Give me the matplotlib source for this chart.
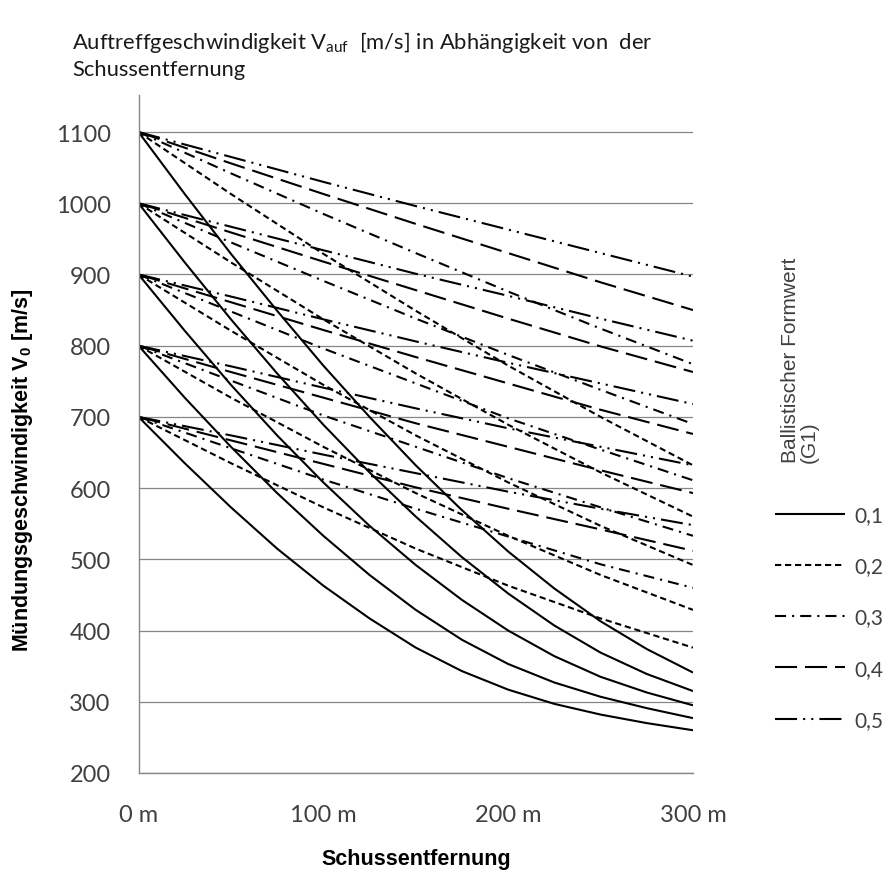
""" Auftreffgeschwindigkeit chart """

# imports
import matplotlib
matplotlib.use('Agg')
import matplotlib.pyplot as plt

plt.rcParams['mathtext.default'] = 'regular'

# distances [m]
distance_fine = [0, 25, 50, 75, 100, 125, 150, 175, 200, 225, 250, 275, 300]
distance = [0, 50, 100, 150, 200, 250, 300]
muzzle = [1100, 1000, 900, 800, 700]
formwert = ['0,1', '0,2', '0,3', '0,4', '0,5']

# velocities, one row per muzzle velocity
bc01 = [
	[1100, 1013, 929, 849, 772, 700, 632, 569, 511, 459, 413, 374, 341],
	[1000, 917, 837, 761, 689, 622, 560, 503, 452, 407, 369, 339, 315],
	[900, 821, 745, 674, 608, 547, 492, 443, 400, 364, 335, 313, 295],
	[800, 727, 658, 593, 533, 478, 429, 387, 353, 327, 307, 291, 277],
	[700, 635, 573, 515, 463, 417, 376, 343, 317, 297, 282, 270, 260],
]
bc02 = [
	[1100, 1013, 929, 849, 772, 700, 632],
	[1000, 917, 837, 761, 689, 622, 560],
	[900, 821, 745, 674, 608, 547, 492],
	[800, 727, 658, 593, 533, 478, 429],
	[700, 635, 573, 515, 463, 417, 376],
]
bc03 = [
	[1100, 1042, 985, 930, 876, 824, 774],
	[1000, 945, 891, 838, 787, 738, 690],
	[900, 848, 796, 747, 698, 654, 611],
	[800, 751, 702, 658, 614, 573, 533],
	[700, 656, 612, 571, 532, 493, 460],
]
bc04 = [
	[1100, 1056, 1013, 971, 930, 889, 850],
	[1000, 959, 918, 878, 838, 799, 763],
	[900, 861, 822, 784, 747, 710, 676],
	[800, 763, 727, 691, 658, 625, 593],
	[700, 667, 634, 601, 571, 542, 512],
]
bc05 = [
	[1100, 1065, 1030, 996, 963, 930, 897],
	[1000, 967, 934, 901, 870, 838, 807],
	[900, 869, 837, 806, 776, 747, 718],
	[800, 771, 741, 712, 684, 658, 632],
	[700, 674, 647, 621, 595, 571, 548],
]

# line styles (dash patterns in linewidth units)
dashPatterns = [None, (3, 1.8), (5.3, 2.9, 1, 2.9), (10.6, 3.8), (10.6, 2.9, 1, 2.9, 1, 2.9)]
series = [(distance_fine, bc01), (distance, bc02), (distance, bc03), (distance, bc04), (distance, bc05)]

calibri = ['Lato', 'DejaVu Sans']
arial = ['Liberation Sans', 'DejaVu Sans']
tickColor = '#404040'
gridColor = '#868686'

fig = plt.figure(figsize=(8.93, 8.79), dpi=100)
ax = fig.add_axes([0.1551, 0.1195, 0.6209, 0.7713])

# draw curves
handles = []
for i, (xs, rows) in enumerate(series):
	for j, row in enumerate(rows):
		line, = ax.plot(xs, row, color='black', lw=1.5, solid_capstyle='butt', dash_capstyle='butt')
		if dashPatterns[i] is not None:
			line.set_dashes(dashPatterns[i])
		if j == 0:
			line.set_label(formwert[i])
			handles.append(line)

# axes
ax.set_xlim(0, 300)
ax.set_ylim(200, 1152)
ax.set_xticks([0, 100, 200, 300])
ax.set_xticklabels(['0 m', '100 m', '200 m', '300 m'])
ax.set_yticks(range(200, 1101, 100))
ax.yaxis.grid(True, color=gridColor, lw=0.9)
ax.set_axisbelow(True)
for side in ['top', 'right']:
	ax.spines[side].set_visible(False)
for side in ['left', 'bottom']:
	ax.spines[side].set_color(gridColor)
	ax.spines[side].set_linewidth(1.0)
ax.tick_params(axis='both', length=0, labelsize=17, labelcolor=tickColor)
ax.tick_params(axis='y', pad=20)
ax.tick_params(axis='x', pad=22)
for lbl in ax.get_xticklabels() + ax.get_yticklabels():
	lbl.set_family(calibri)

# titles
fig.text(72 / 893, 1 - 55 / 879, 'Auftreffgeschwindigkeit V$_{auf}$  [m/s] in Abhängigkeit von  der\nSchussentfernung',
	family=calibri, fontsize=15.8, color='#1a1a1a', ha='left', va='center', linespacing=1.3)
fig.text(23 / 893, 1 - 470 / 879, 'Mündungsgeschwindigkeit V$_0$ [m/s]', family=arial, fontsize=15.5,
	fontweight='bold', rotation=90, ha='center', va='center')
fig.text(416 / 893, 1 - 860 / 879, 'Schussentfernung', family=arial, fontsize=15.5,
	fontweight='bold', ha='center', va='center')

# legend
fig.text(800 / 893, 1 - 463 / 879, 'Ballistischer Formwert\n(G1)', family=arial, fontsize=15,
	color=tickColor, rotation=90, ha='center', va='bottom', multialignment='left', linespacing=1.0)
leg = fig.legend(handles=handles, loc='upper left', bbox_to_anchor=(775 / 893, 1 - 506 / 879),
	frameon=False, borderpad=0, borderaxespad=0, handlelength=3.36, handletextpad=0.45,
	labelspacing=1.5, prop={'family': calibri, 'size': 15})
for t in leg.get_texts():
	t.set_color(tickColor)

fig.savefig('out.png', dpi=100)
